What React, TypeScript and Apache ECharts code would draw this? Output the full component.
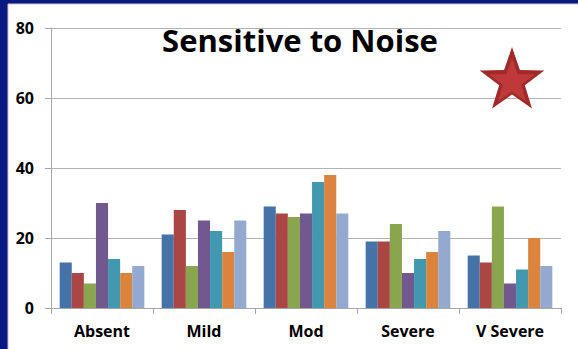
import React, { useEffect, useRef } from "react";
import * as echarts from "echarts";

const categories = ["Absent", "Mild", "Mod", "Severe", "V Severe"];
const seriesNames = ["Series 1", "Series 2", "Series 3", "Series 4", "Series 5", "Series 6", "Series 7"];
const s1 = [13, 21, 29, 19, 15];
const s2 = [10, 28, 27, 19, 13];
const s3 = [7, 12, 26, 24, 29];
const s4 = [30, 25, 27, 10, 7];
const s5 = [14, 22, 36, 14, 11];
const s6 = [10, 16, 38, 16, 20];
const s7 = [12, 25, 27, 22, 12];
const seriesValues = [s1, s2, s3, s4, s5, s6, s7];
const colors = ["#4572A7", "#AA4643", "#89A54E", "#71588F", "#4198AF", "#DB843D", "#93A9CF"];
const yTicks = [0, 20, 40, 60, 80];

function starPoints(cx: number, cy: number, R: number, r: number): number[][] {
  const pts: number[][] = [];
  for (let i = 0; i < 10; i++) {
    const rad = i % 2 === 0 ? R : r;
    const a = -Math.PI / 2 + (i * Math.PI) / 5;
    pts.push([cx + rad * Math.cos(a), cy + rad * Math.sin(a)]);
  }
  return pts;
}

export default function App() {
  const ref = useRef<HTMLDivElement>(null);
  useEffect(() => {
    if (!ref.current) return;
    const chart = echarts.init(ref.current, null, { renderer: "svg" });
    const font = "'Open Sans', 'Noto Sans', sans-serif";
    chart.setOption({
      animation: false,
      backgroundColor: "#0b1a82",
      title: {
        text: "Sensitive to Noise",
        left: 295,
        top: 19,
        textAlign: "center",
        textStyle: { fontFamily: font, fontWeight: "bold", fontSize: 31, color: "#000" },
      },
      graphic: [
        {
          type: "rect",
          z: -10,
          shape: { x: 8, y: 4, width: 580, height: 360 },
          style: { fill: "#ffffff", stroke: "#c8c8c8", lineWidth: 1 },
        },
        {
          type: "polygon",
          z: 10,
          shape: { points: starPoints(512, 81, 34, 13.5) },
          style: { fill: "#A0292A" },
        },
        {
          type: "polygon",
          z: 11,
          shape: { points: starPoints(512, 82, 24, 9.5) },
          style: { fill: "#C0393A" },
        },
      ],
      grid: { left: 51, top: 28, right: 17, bottom: 41 },
      xAxis: {
        type: "category",
        data: categories,
        axisLine: { lineStyle: { color: "#a6a6a6", width: 1 } },
        axisTick: { show: true, length: 6, lineStyle: { color: "#a6a6a6" } },
        axisLabel: { fontFamily: font, fontWeight: "bold", fontSize: 16, color: "#000", margin: 15 },
      },
      yAxis: {
        type: "value",
        min: yTicks[0],
        max: yTicks[yTicks.length - 1],
        interval: 20,
        axisLine: { show: true, lineStyle: { color: "#a6a6a6", width: 1 } },
        axisTick: { show: true, length: 6, lineStyle: { color: "#a6a6a6" } },
        splitLine: { lineStyle: { color: "#b3b3b3", width: 1 } },
        axisLabel: { fontFamily: font, fontWeight: "bold", fontSize: 16, color: "#000", margin: 17 },
      },
      series: seriesValues.map((vals, i) => ({
        type: "bar",
        name: seriesNames[i],
        data: vals,
        barGap: "0%",
        barCategoryGap: "17%",
        itemStyle: { color: colors[i] },
      })),
    });
    return () => chart.dispose();
  }, []);
  return <div ref={ref} style={{ position: "fixed", left: 0, top: 0, width: 578, height: 349 }} />;
}
